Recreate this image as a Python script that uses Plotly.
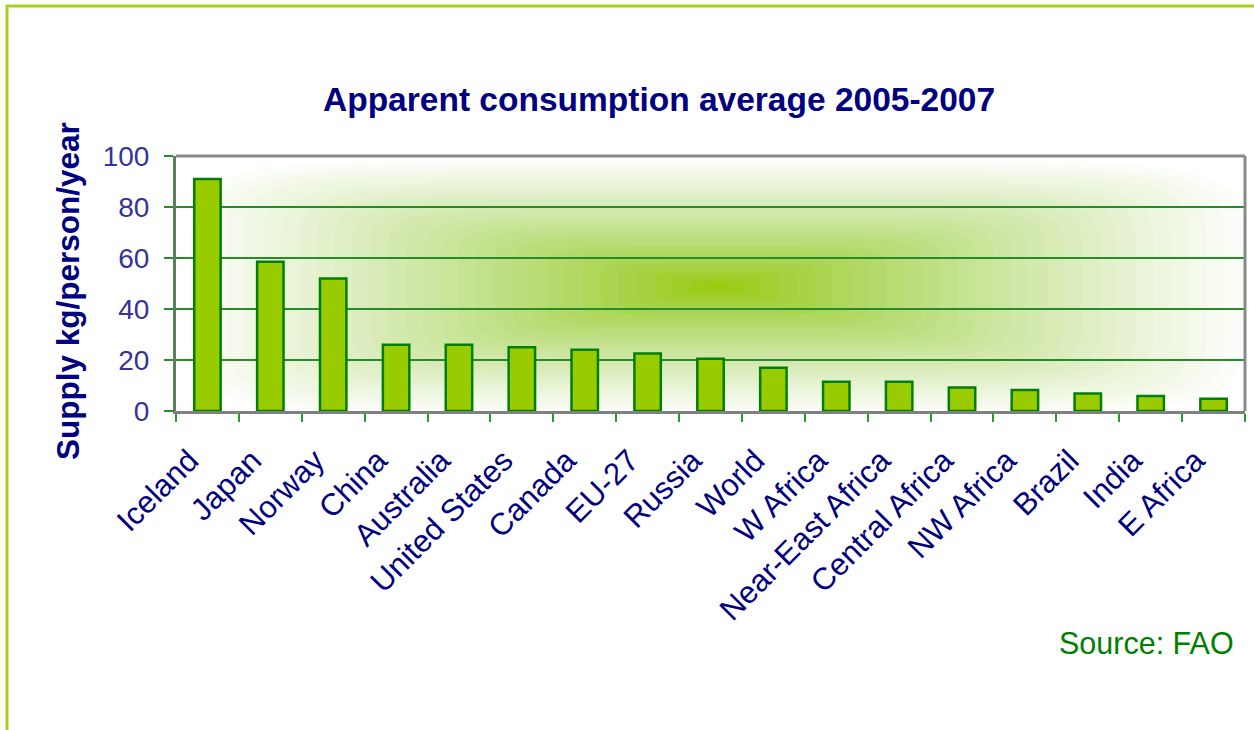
import base64
import struct
import zlib

import numpy as np
import plotly.graph_objects as go

# --- data ---------------------------------------------------------------
countries = [
    "Iceland", "Japan", "Norway", "China", "Australia", "United States",
    "Canada", "EU-27", "Russia", "World", "W Africa", "Near-East Africa",
    "Central Africa", "NW Africa", "Brazil", "India", "E Africa",
]
supply_kg = [91, 58.5, 52, 26, 26, 25, 24, 22.5, 20.5, 17, 11.5, 11.5,
             9.2, 8.2, 6.9, 5.9, 4.8]
y_ticks = [0, 20, 40, 60, 80, 100]

# --- canvas geometry (pixels) -------------------------------------------
W, H = 1254, 730
L, R, T, B = 176, 1245, 156, 411          # plot area edges
PW, PH = R - L, B - T


def px_x(px):
    return (px - L) / PW


def px_y(py):
    return (B - py) / PH


# --- soft green background glow behind the bars ------------------------
def glow_png(w, h):
    u = (np.arange(w) + 0.5) / w
    v = (np.arange(h) + 0.5) / h
    uu, vv = np.meshgrid(u, v)
    du = np.abs(uu - 0.506) / 0.5
    dv = np.abs(vv - 0.513) / 0.5
    p = 7.0
    t = np.clip((du ** p + dv ** p) ** (1 / p), 0, 1)
    t = np.round(t * 30) / 30
    centre = np.array([153, 204, 8], dtype=float)
    fr = t ** 1.05
    fb = t ** 0.75
    img = np.empty((h, w, 3), dtype=float)
    img[..., 0] = centre[0] + (255 - centre[0]) * fr
    img[..., 1] = centre[1] + (255 - centre[1]) * fr
    img[..., 2] = centre[2] + (255 - centre[2]) * fb
    img = np.clip(img, 0, 255).astype(np.uint8)
    raw = b"".join(b"\x00" + img[i].tobytes() for i in range(h))

    def chunk(tag, data):
        c = struct.pack(">I", len(data)) + tag + data
        return c + struct.pack(">I", zlib.crc32(tag + data) & 0xFFFFFFFF)

    png = (b"\x89PNG\r\n\x1a\n"
           + chunk(b"IHDR", struct.pack(">IIBBBBB", w, h, 8, 2, 0, 0, 0))
           + chunk(b"IDAT", zlib.compress(raw, 9))
           + chunk(b"IEND", b""))
    return "data:image/png;base64," + base64.b64encode(png).decode()


FONT = "Liberation Sans, Arial, sans-serif"
NAVY = "#000080"
GRID = "#2a8a2a"

fig = go.Figure()
fig.add_trace(go.Bar(
    x=countries,
    y=supply_kg,
    marker=dict(color="#99cc00", line=dict(color="#008000", width=2.5)),
    hoverinfo="x+y",
))

fig.update_layout(
    width=W,
    height=H,
    margin=dict(l=L, r=W - R, t=T, b=H - B),
    paper_bgcolor="white",
    plot_bgcolor="rgba(0,0,0,0)",
    showlegend=False,
    bargap=0.58,
    font=dict(family=FONT, color=NAVY),
    images=[dict(
        source=glow_png(PW, PH),
        xref="paper", yref="paper",
        x=0, y=1, sizex=1, sizey=1,
        xanchor="left", yanchor="top",
        sizing="stretch", layer="below",
    )],
)

fig.update_xaxes(
    type="category",
    tickangle=-45,
    tickfont=dict(family=FONT, size=31, color=NAVY),
    ticks="outside",
    tickson="boundaries",
    ticklen=8,
    tickwidth=1.5,
    tickcolor="#2a9a2a",
    showline=True,
    linecolor="#808080",
    linewidth=3,
    showgrid=False,
    ticklabelstandoff=16,
    ticklabelshift=-18,
)

fig.update_yaxes(
    range=[0, 100],
    tickvals=y_ticks,
    tickfont=dict(family=FONT, size=28, color="#333399"),
    ticks="outside",
    ticklen=9,
    tickwidth=1.5,
    tickcolor="#2a8a2a",
    showline=True,
    linecolor="#5a7f5a",
    linewidth=3,
    showgrid=True,
    gridcolor=GRID,
    gridwidth=1.5,
    zeroline=False,
    ticklabelstandoff=9,
)

# grey frame on the top and right of the plot area
fig.add_shape(type="line", xref="paper", yref="paper",
              x0=0, x1=1, y0=1, y1=1,
              line=dict(color="#888888", width=3))
fig.add_shape(type="line", xref="paper", yref="paper",
              x0=1, x1=1, y0=0, y1=1,
              line=dict(color="#888888", width=3))

# light green slide frame (top and left edges)
fig.add_shape(type="line", xref="paper", yref="paper",
              x0=px_x(6), x1=px_x(W + 5), y0=px_y(6), y1=px_y(6),
              line=dict(color="#a6d11f", width=3))
fig.add_shape(type="line", xref="paper", yref="paper",
              x0=px_x(7), x1=px_x(7), y0=px_y(5), y1=px_y(H + 5),
              line=dict(color="#a6d11f", width=3))

fig.add_annotation(
    text="<b>Apparent consumption average 2005-2007</b>",
    xref="paper", yref="paper", x=px_x(659), y=px_y(100),
    xanchor="center", yanchor="middle", showarrow=False,
    font=dict(family=FONT, size=33.5, color=NAVY),
)
fig.add_annotation(
    text="<b>Supply kg/person/year</b>",
    xref="paper", yref="paper", x=px_x(68), y=px_y(291),
    xanchor="center", yanchor="middle", showarrow=False, textangle=-90,
    font=dict(family=FONT, size=31.5, color=NAVY),
)
fig.add_annotation(
    text="Source: FAO",
    xref="paper", yref="paper", x=px_x(1236), y=px_y(643),
    xanchor="right", yanchor="middle", showarrow=False,
    font=dict(family=FONT, size=30.5, color="#008000"),
)

fig.write_html("out.html")
